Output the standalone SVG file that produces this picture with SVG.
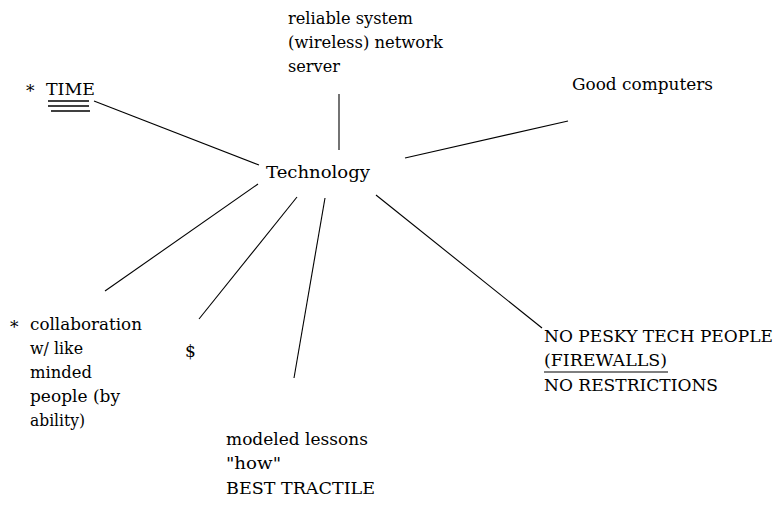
<svg xmlns="http://www.w3.org/2000/svg" width="775" height="506" viewBox="0 0 775 506">
  <style>
    text { font-family: "DejaVu Serif", "Liberation Serif", serif; font-size: 17px; fill: #000; }
    .ln { stroke: #000; stroke-width: 1.1; fill: none; }
    .ul { stroke: #000; stroke-width: 1.5; fill: none; }
  </style>
  <rect width="775" height="506" fill="#fff"/>

  <!-- spokes from the centre topic -->
  <g id="connectors">
    <line class="ln" x1="94" y1="101" x2="259" y2="165"/>
    <line class="ln" x1="339" y1="94" x2="339" y2="150"/>
    <line class="ln" x1="405" y1="158" x2="568" y2="121"/>
    <line class="ln" x1="258" y1="184" x2="105" y2="291"/>
    <line class="ln" x1="297" y1="197" x2="199" y2="319"/>
    <line class="ln" x1="325" y1="198" x2="294" y2="378"/>
    <line class="ln" x1="376" y1="195" x2="542" y2="328"/>
  </g>

  <g id="technology">
    <text x="266" y="178" textLength="104" lengthAdjust="spacingAndGlyphs">Technology</text>
  </g>

  <g id="time">
    <text x="26" y="97" font-size="13">*</text>
    <text x="46" y="95" textLength="49" lengthAdjust="spacingAndGlyphs">TIME</text>
    <line class="ul" x1="48" y1="101" x2="89" y2="101"/>
    <line class="ul" x1="48" y1="106" x2="89" y2="106"/>
    <line class="ul" x1="51" y1="111" x2="90" y2="111"/>
  </g>

  <g id="network">
    <text x="288" y="24" textLength="125" lengthAdjust="spacingAndGlyphs">reliable system</text>
    <text x="288" y="48" textLength="155" lengthAdjust="spacingAndGlyphs">(wireless) network</text>
    <text x="288" y="72" textLength="52" lengthAdjust="spacingAndGlyphs">server</text>
  </g>

  <g id="computers">
    <text x="572" y="90" textLength="141" lengthAdjust="spacingAndGlyphs">Good computers</text>
  </g>

  <g id="collaboration">
    <text x="10" y="333" font-size="14">*</text>
    <text x="30" y="330" textLength="112" lengthAdjust="spacingAndGlyphs">collaboration</text>
    <text x="30" y="354" textLength="53" lengthAdjust="spacingAndGlyphs">w/ like</text>
    <text x="30" y="378" textLength="62" lengthAdjust="spacingAndGlyphs">minded</text>
    <text x="30" y="402" textLength="90" lengthAdjust="spacingAndGlyphs">people (by</text>
    <text x="30" y="426" textLength="55" lengthAdjust="spacingAndGlyphs">ability)</text>
  </g>

  <g id="money">
    <text x="185" y="357">$</text>
  </g>

  <g id="lessons">
    <text x="226" y="445" textLength="142" lengthAdjust="spacingAndGlyphs">modeled lessons</text>
    <text x="226" y="469" textLength="55" lengthAdjust="spacingAndGlyphs">"how"</text>
    <text x="226" y="494" textLength="149" lengthAdjust="spacingAndGlyphs">BEST TRACTILE</text>
  </g>

  <g id="restrictions">
    <text x="544" y="342" textLength="229" lengthAdjust="spacingAndGlyphs">NO PESKY TECH PEOPLE</text>
    <text x="544" y="366" textLength="123" lengthAdjust="spacingAndGlyphs">(FIREWALLS)</text>
    <line class="ln" x1="544" y1="372" x2="668" y2="372"/>
    <text x="544" y="391" textLength="174" lengthAdjust="spacingAndGlyphs">NO RESTRICTIONS</text>
  </g>
</svg>
